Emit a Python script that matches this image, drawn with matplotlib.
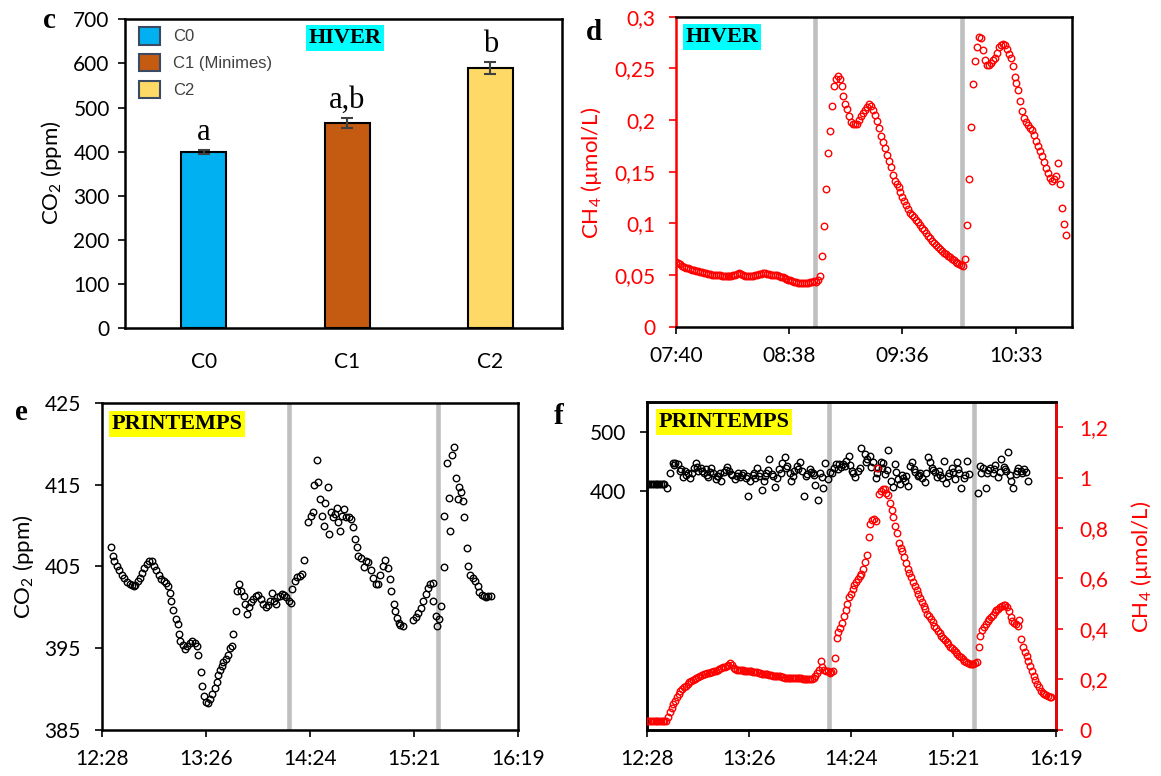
import matplotlib
matplotlib.use('Agg')
import matplotlib.pyplot as plt
import numpy as np
from matplotlib.ticker import FixedLocator, FuncFormatter
from matplotlib.patches import Patch

plt.rcParams['font.family'] = ['Lato', 'DejaVu Sans']
plt.rcParams['mathtext.fontset'] = 'custom'
plt.rcParams['mathtext.rm'] = 'Lato'
plt.rcParams['mathtext.it'] = 'Lato:italic'
plt.rcParams['mathtext.bf'] = 'Lato:bold'

# ---------------- data ----------------
bar_categories = ['C0', 'C1', 'C2']
bar_legend = ['C0', 'C1 (Minimes)', 'C2']
bar_co2 = [400, 465, 590]
bar_err = [5, 12, 14]
bar_letters = ['a', 'a,b', 'b']
bar_colors = ['#00B0F0', '#C55A11', '#FFD966']

# panel d : CH4 (winter), one reading per minute from 07:41
d_start_min = 461
d_ch4 = [
    0.063, 0.062, 0.061, 0.059, 0.058, 0.057, 0.057, 0.056, 0.055, 0.055,
    0.054, 0.054, 0.053, 0.053, 0.052, 0.052, 0.051, 0.051, 0.050, 0.050,
    0.050, 0.050, 0.050, 0.049, 0.049, 0.049, 0.049, 0.049, 0.049, 0.050,
    0.050, 0.051, 0.052, 0.051, 0.050, 0.049, 0.049, 0.049, 0.049, 0.049,
    0.050, 0.050, 0.051, 0.051, 0.052, 0.052, 0.051, 0.051, 0.050, 0.050,
    0.050, 0.050, 0.049, 0.048, 0.048, 0.047, 0.046, 0.045, 0.045, 0.044,
    0.043, 0.043, 0.042, 0.042, 0.042, 0.042, 0.042, 0.042, 0.043, 0.043,
    0.044, 0.043, 0.045, 0.049, 0.068, 0.097, 0.133, 0.168, 0.189, 0.214,
    0.233, 0.240, 0.243, 0.240, 0.233, 0.223, 0.216, 0.211, 0.204, 0.198,
    0.196, 0.196, 0.196, 0.200, 0.204, 0.207, 0.210, 0.213, 0.216, 0.214,
    0.210, 0.205, 0.199, 0.192, 0.185, 0.179, 0.173, 0.166, 0.160, 0.155,
    0.147, 0.141, 0.138, 0.135, 0.130, 0.126, 0.122, 0.118, 0.114, 0.110,
    0.108, 0.106, 0.103, 0.101, 0.098, 0.096, 0.094, 0.091, 0.088, 0.086,
    0.083, 0.081, 0.079, 0.077, 0.075, 0.073, 0.071, 0.070, 0.068, 0.067,
    0.066, 0.065, 0.063, 0.062, 0.061, 0.060, 0.059, 0.066, 0.098, 0.143,
    0.193, 0.235, 0.257, 0.271, 0.280, 0.279, 0.268, 0.258, 0.253, 0.253,
    0.255, 0.258, 0.260, 0.265, 0.271, 0.273, 0.274, 0.273, 0.269, 0.264,
    0.260, 0.252, 0.242, 0.236, 0.229, 0.218, 0.209, 0.202, 0.198, 0.195,
    0.192, 0.190, 0.186, 0.180, 0.175, 0.170, 0.165, 0.159, 0.154, 0.149,
    0.144, 0.141, 0.143, 0.146, 0.158, 0.138, 0.115, 0.099, 0.089,
]
d_events_min = [531.5, 606.5]

# panel e : CO2 (spring); minutes after 12:28:48
e_t0_min = 748.8
e_t = [
    5.0, 6.1, 7.0, 8.3, 9.8, 11.1, 12.4, 13.9, 15.4, 16.7,
    17.7, 18.6, 19.9, 21.0, 22.3, 23.6, 25.1, 26.4, 27.9, 29.2,
    30.3, 31.6, 32.9, 34.3, 35.8, 36.8, 37.7, 38.4, 39.6, 40.9,
    42.2, 42.7, 43.6, 45.1, 45.9, 47.4, 48.7, 50.2, 51.5, 52.6,
    53.5, 54.8, 55.7, 56.7, 57.8, 58.9, 60.0, 61.3, 62.6, 63.7,
    64.6, 65.6, 66.5, 67.4, 68.7, 69.7, 71.1, 71.9, 72.8, 74.3,
    74.9, 76.2, 77.1, 78.6, 79.3, 80.4, 81.7, 82.7, 84.0, 85.5,
    86.7, 88.2, 89.5, 91.0, 91.9, 93.2, 94.2, 95.3, 96.6, 97.2,
    98.5, 99.8, 100.9, 102.2, 103.5, 104.6, 105.5, 106.8, 108.1, 109.6,
    110.9, 112.0, 114.3, 116.1, 117.0, 117.4, 118.9, 119.8, 120.8, 121.7,
    123.0, 123.6, 125.4, 126.0, 126.7, 127.8, 128.9, 130.0, 130.6, 131.9,
    132.8, 134.1, 135.3, 136.6, 137.9, 139.0, 140.3, 141.2, 142.1, 143.4,
    144.9, 146.2, 147.6, 148.9, 150.1, 151.6, 152.9, 154.2, 155.5, 156.6,
    158.3, 159.8, 160.3, 161.6, 162.4, 163.5, 164.4, 165.3, 166.8, 172.4,
    173.7, 175.0, 176.5, 178.0, 179.3, 180.6, 181.8, 183.1, 183.6, 184.9,
    185.5, 186.8, 187.7, 189.2, 189.5, 191.1, 192.0, 192.8, 193.7, 194.8,
    196.1, 197.0, 197.9, 198.8, 200.1, 200.7, 202.1, 202.9, 204.0, 205.3,
    206.6, 208.1, 209.0, 210.3, 211.4, 212.7, 214.0, 215.5,
]
e_co2 = [
    407.4, 406.3, 405.7, 405.1, 404.6, 404.0, 403.6, 403.1, 402.8, 402.7,
    402.6, 402.7, 403.2, 403.6, 404.2, 404.8, 405.3, 405.6, 405.6, 405.1,
    404.5, 404.0, 403.4, 403.2, 403.0, 402.6, 401.7, 400.7, 399.6, 398.6,
    397.9, 396.7, 395.9, 395.4, 394.9, 395.3, 395.6, 395.8, 395.6, 395.3,
    394.1, 392.1, 390.3, 389.1, 388.4, 388.3, 388.7, 389.4, 390.1, 390.9,
    391.7, 392.3, 392.8, 393.3, 393.7, 394.2, 395.0, 395.2, 396.7, 399.5,
    402.0, 402.8, 402.0, 401.4, 400.4, 399.2, 400.0, 400.6, 401.0, 401.4,
    401.5, 401.0, 400.4, 400.0, 400.3, 400.8, 401.7, 400.8, 400.4, 401.2,
    401.4, 401.6, 401.5, 401.2, 400.8, 400.5, 402.2, 403.2, 403.7, 403.8,
    404.1, 405.8, 410.4, 411.2, 411.6, 414.9, 418.0, 415.3, 413.2, 411.2,
    410.0, 412.8, 414.7, 408.9, 411.6, 411.1, 411.4, 412.1, 410.4, 409.3,
    411.2, 412.0, 411.0, 411.0, 410.8, 409.8, 408.4, 407.4, 406.3, 406.0,
    404.9, 405.7, 405.5, 404.6, 403.6, 402.9, 402.8, 404.0, 405.0, 405.8,
    404.8, 403.5, 402.0, 400.4, 399.5, 398.7, 398.1, 397.8, 397.7, 398.4,
    398.8, 399.3, 399.9, 400.7, 401.6, 402.3, 402.8, 403.0, 400.8, 398.9,
    397.7, 398.5, 400.1, 404.9, 411.2, 417.6, 413.4, 409.3, 418.6, 419.6,
    415.8, 413.2, 414.7, 414.1, 413.0, 411.1, 407.3, 405.1, 403.9, 403.6,
    403.2, 402.6, 401.9, 401.5, 401.4, 401.3, 401.4, 401.4,
]
e_events_min = [852.6, 935.1]

# panel f : CO2 (left axis), minutes after 12:28:48
f_t0_min = 748.8
f_co2_t = [
    0, 1, 2, 3, 4, 5, 6, 7, 8, 9, 10,
    11.2, 12.9, 14.6, 16.0, 17.4, 18.7, 20.2, 21.6, 23.3, 24.5,
    26.4, 27.9, 29.1, 30.6, 32.0, 33.3, 34.7, 36.2, 37.4, 38.9,
    40.3, 42.0, 43.7, 45.1, 46.6, 48.2, 49.9, 51.4, 52.8, 54.5,
    55.9, 57.0, 58.2, 59.7, 61.1, 62.4, 63.8, 64.9, 65.9, 67.4,
    69.0, 70.5, 72.1, 73.2, 74.6, 76.3, 77.8, 79.0, 80.5, 81.5,
    83.2, 84.6, 86.1, 87.3, 88.8, 90.2, 91.9, 93.6, 95.0, 96.5,
    97.7, 99.2, 100.2, 101.9, 104.4, 106.4, 108.5, 110.6, 112.3, 113.7,
    115.4, 117.3, 118.9, 121.0, 122.7, 124.1, 125.6, 127.2, 128.9, 130.4,
    131.8, 133.1, 134.5, 136.0, 137.6, 138.7, 139.7, 141.4, 142.8, 144.3,
    145.5, 147.0, 148.4, 149.7, 151.1, 152.6, 153.8, 155.3, 156.8, 158.4,
    159.5, 160.9, 162.2, 163.6, 164.7, 166.3, 167.6, 168.8, 170.5, 171.9,
    173.4, 174.6, 176.1, 177.1, 178.8, 180.2, 181.3, 186.5, 187.5, 189.2,
    190.9, 191.7, 193.3, 194.8, 196.3, 197.9, 199.6, 201.0, 202.5, 203.7,
    205.2, 206.2, 207.9, 209.4, 210.8, 212.5, 214.6,
    15.3, 19.5, 22.4, 25.4, 28.5, 31.3, 34.0, 35.5, 39.6, 41.2,
    44.4, 47.4, 50.6, 53.6, 56.5, 60.4, 63.1, 66.6, 68.2, 71.3,
    75.4, 78.4, 82.3, 85.3, 89.5, 92.7, 94.3, 98.5, 103.5, 105.4,
    107.5, 109.6, 111.5, 114.6, 116.3, 119.9, 123.4, 126.4, 129.6, 132.5,
    135.3, 140.5, 143.6, 146.2, 150.4, 153.2, 157.5, 161.5, 165.5, 169.6,
    172.6, 175.3, 179.5, 188.3, 192.5, 195.5, 198.8, 202.0, 204.5, 208.6,
    211.6, 213.5,
]
f_co2 = [
    413, 413, 413, 413, 413, 413, 413, 413, 413, 413, 412,
    406, 430, 447, 448, 446, 434, 424, 435, 431, 422,
    439, 447, 434, 439, 431, 437, 424, 439, 431, 420,
    426, 418, 433, 441, 434, 427, 420, 430, 424, 431,
    422, 393, 417, 427, 422, 439, 430, 403, 418, 431,
    454, 429, 407, 422, 437, 447, 457, 443, 430, 418,
    434, 443, 450, 434, 393, 429, 437, 430, 410, 386,
    430, 406, 447, 420, 430, 446, 446, 446, 451, 460,
    434, 424, 435, 472, 463, 454, 460, 449, 422, 440,
    449, 447, 429, 469, 418, 407, 446, 420, 413, 423,
    418, 409, 443, 449, 433, 426, 430, 422, 416, 457,
    450, 440, 433, 424, 434, 422, 451, 414, 430, 440,
    420, 450, 431, 405, 422, 451, 429, 397, 443, 440,
    406, 430, 440, 431, 445, 424, 454, 441, 434, 466,
    418, 406, 429, 439, 434, 437, 418,
    444, 438, 428, 430, 441, 435, 428, 433, 425, 431,
    436, 429, 426, 428, 425, 431, 426, 425, 436, 425,
    430, 440, 426, 438, 425, 433, 428, 424, 432, 440,
    438, 441, 443, 445, 430, 440, 449, 441, 430, 440,
    436, 432, 428, 425, 438, 428, 430, 436, 428, 425,
    433, 437, 428, 430, 436, 438, 432, 437, 428, 434,
    430, 432,
]
# panel f : CH4 (right axis), one reading per minute from 12:28:48
f_ch4 = [
    0.036, 0.036, 0.036, 0.036, 0.035, 0.035, 0.035, 0.034, 0.034, 0.034,
    0.033, 0.034, 0.050, 0.072, 0.088, 0.100, 0.115, 0.128, 0.140, 0.152,
    0.161, 0.168, 0.174, 0.181, 0.189, 0.195, 0.199, 0.203, 0.207, 0.210,
    0.214, 0.217, 0.220, 0.222, 0.225, 0.226, 0.228, 0.229, 0.231, 0.233,
    0.236, 0.239, 0.243, 0.247, 0.250, 0.253, 0.258, 0.264, 0.255, 0.245,
    0.240, 0.238, 0.237, 0.236, 0.235, 0.234, 0.233, 0.232, 0.232, 0.231,
    0.230, 0.228, 0.227, 0.226, 0.224, 0.222, 0.221, 0.220, 0.219, 0.218,
    0.216, 0.214, 0.212, 0.213, 0.214, 0.212, 0.210, 0.208, 0.207, 0.206,
    0.206, 0.205, 0.205, 0.204, 0.204, 0.205, 0.206, 0.204, 0.203, 0.202,
    0.201, 0.200, 0.201, 0.203, 0.207, 0.215, 0.224, 0.235, 0.272, 0.250,
    0.238, 0.234, 0.232, 0.226, 0.228, 0.231, 0.284, 0.363, 0.389, 0.405,
    0.425, 0.450, 0.475, 0.500, 0.528, 0.540, 0.558, 0.575, 0.586, 0.598,
    0.610, 0.618, 0.636, 0.665, 0.695, 0.765, 0.815, 0.830, 0.835, 0.828,
    1.039, 0.935, 0.945, 0.955, 0.955, 0.938, 0.930, 0.900, 0.870, 0.844,
    0.810, 0.780, 0.740, 0.720, 0.708, 0.685, 0.660, 0.638, 0.620, 0.605,
    0.586, 0.570, 0.553, 0.538, 0.524, 0.508, 0.492, 0.477, 0.460, 0.450,
    0.441, 0.428, 0.413, 0.402, 0.392, 0.382, 0.373, 0.363, 0.354, 0.349,
    0.338, 0.330, 0.323, 0.316, 0.308, 0.300, 0.293, 0.287, 0.280, 0.274,
    0.269, 0.265, 0.262, 0.259, 0.261, 0.263, 0.269, 0.330, 0.370, 0.395,
    0.408, 0.418, 0.430, 0.440, 0.446, 0.457, 0.468, 0.476, 0.480, 0.487,
    0.490, 0.494, 0.494, 0.488, 0.470, 0.448, 0.432, 0.424, 0.421, 0.410,
    0.437, 0.360, 0.330, 0.310, 0.292, 0.272, 0.252, 0.232, 0.213, 0.197,
    0.183, 0.168, 0.155, 0.147, 0.141, 0.137, 0.133, 0.131, 0.130,
]
f_events_min = [851.7, 933.3]

assert len(e_t) == len(e_co2)
assert len(f_co2_t) == len(f_co2)

# ---------------- helpers ----------------
W, H = 1161, 776
DAY = 1440.0
RED = '#FF0000'
GRAY = '#BFBFBF'


def rect(l, t, r, b):
    return [l / W, 1 - b / H, (r - l) / W, (b - t) / H]


def hhmm(x, pos=None):
    m = int(np.floor(x * DAY + 1e-6))
    return f"{m // 60:02d}:{m % 60:02d}"


def comma(v, pos=None):
    s = f"{v:.2f}".rstrip('0').rstrip('.')
    return s.replace('.', ',')


def style_spines(ax, lw=1.5, colors=None):
    colors = colors or {}
    for side, sp in ax.spines.items():
        sp.set_linewidth(lw)
        sp.set_color(colors.get(side, 'black'))


def tag(x, y, s, color):
    fig.text(x / W, 1 - y / H, s, fontsize=16, fontweight='bold',
             family='Liberation Serif', ha='center', va='center',
             bbox=dict(boxstyle='square,pad=0.12', facecolor=color, edgecolor='none'))


def panel_letter(x, y, s):
    fig.text(x / W, 1 - y / H, s, fontsize=21, fontweight='bold',
             family='Liberation Serif', ha='center', va='center')


def ylab(x, y, s, color='black'):
    fig.text(x / W, 1 - y / H, s, fontsize=16, color=color, rotation=90,
             ha='center', va='center')


mk = dict(linestyle='none', marker='o', markerfacecolor='none',
          markersize=4.7, markeredgewidth=1.0)

fig = plt.figure(figsize=(W / 100, H / 100), dpi=100)

# ---------------- panel c ----------------
axc = fig.add_axes(rect(125, 19.3, 562, 328.3))
xc = np.arange(len(bar_categories))
axc.bar(xc, bar_co2, width=0.315, color=bar_colors, edgecolor='black',
        linewidth=1.5, zorder=2)
axc.errorbar(xc, bar_co2, yerr=bar_err, fmt='none', ecolor='#404040',
             elinewidth=1.5, capsize=4, capthick=1.5, zorder=3)
for xi, m, e, s in zip(xc, bar_co2, bar_err, bar_letters):
    axc.annotate(s, (xi, m + e), xytext=(0, 7), textcoords='offset points',
                 ha='center', va='baseline', fontsize=22,
                 family='Liberation Serif')
axc.set_xlim(-0.55, 2.5)
axc.set_ylim(0, 700)
axc.set_yticks(np.arange(0, 701, 100))
axc.set_xticks(xc)
axc.set_xticklabels(bar_categories)
axc.tick_params(axis='x', length=0, pad=17, labelsize=15)
axc.tick_params(axis='y', length=5, width=1.2, pad=6, labelsize=15, direction='out')
style_spines(axc, 1.8)
handles = [Patch(facecolor=c, edgecolor='#3B4A63', linewidth=1.5) for c in bar_colors]
leg = axc.legend(handles, bar_legend, loc='upper left', bbox_to_anchor=(0.032, 0.975),
                 frameon=False, handlelength=1.25, handleheight=1.25,
                 handletextpad=0.8, labelspacing=0.55, borderpad=0, borderaxespad=0,
                 prop={'family': 'Liberation Sans', 'size': 12})
for t in leg.get_texts():
    t.set_color('#404040')
tag(345, 38, 'HIVER', '#00FFFF')
panel_letter(49, 21, 'c')
ylab(52, 173, 'CO$_2$ (ppm)')

# ---------------- panel d ----------------
axd = fig.add_axes(rect(676, 16.7, 1072.3, 326.7))
xd = (d_start_min + np.arange(len(d_ch4))) / DAY
for ev in d_events_min:
    axd.axvline(ev / DAY, color=GRAY, lw=3.3, zorder=1)
axd.plot(xd, d_ch4, color=RED, markeredgecolor=RED, zorder=3, **mk)
axd.set_xlim(0.32, 0.46)
axd.set_ylim(0, 0.3)
axd.xaxis.set_major_locator(FixedLocator([0.32, 0.36, 0.40, 0.44]))
axd.xaxis.set_major_formatter(FuncFormatter(hhmm))
axd.yaxis.set_major_locator(FixedLocator(np.arange(0, 0.301, 0.05)))
axd.yaxis.set_major_formatter(FuncFormatter(comma))
axd.tick_params(axis='x', length=5, width=1.2, pad=9, labelsize=15, direction='out')
axd.tick_params(axis='y', length=5, width=1.2, pad=10, labelsize=15, direction='out',
                colors=RED)
style_spines(axd, 1.8, {'left': RED})
tag(722, 37, 'HIVER', '#00FFFF')
panel_letter(594, 32, 'd')
ylab(591, 173, 'CH$_4$ (µmol/L)', RED)

# ---------------- panel e ----------------
axe = fig.add_axes(rect(101.7, 403, 518, 729.7))
for ev in e_events_min:
    axe.axvline(ev / DAY, color=GRAY, lw=3.3, zorder=1)
xe = (e_t0_min + np.array(e_t)) / DAY
axe.plot(xe, e_co2, color='black', markeredgecolor='black', zorder=3, **mk)
axe.set_xlim(0.52, 0.68)
axe.set_ylim(385, 425)
axe.xaxis.set_major_locator(FixedLocator([0.52, 0.56, 0.60, 0.64, 0.68]))
axe.xaxis.set_major_formatter(FuncFormatter(hhmm))
axe.set_yticks([385, 395, 405, 415, 425])
axe.tick_params(axis='x', length=5, width=1.2, pad=9, labelsize=15, direction='out')
axe.tick_params(axis='y', length=5, width=1.2, pad=10, labelsize=15, direction='out')
style_spines(axe, 1.8)
tag(177, 424, 'PRINTEMPS', '#FFFF00')
panel_letter(21, 413, 'e')
ylab(24, 567, 'CO$_2$ (ppm)')

# ---------------- panel f ----------------
axf = fig.add_axes(rect(646.7, 402, 1055.7, 729.7))
axf2 = axf.twinx()
for ev in f_events_min:
    axf.axvline(ev / DAY, color=GRAY, lw=3.3, zorder=1)
xf_co2 = (f_t0_min + np.array(f_co2_t)) / DAY
axf.plot(xf_co2, f_co2, color='black', markeredgecolor='black', zorder=3, **mk)
xf_ch4 = (f_t0_min + np.arange(len(f_ch4))) / DAY
axf2.plot(xf_ch4, f_ch4, color=RED, markeredgecolor=RED, zorder=3, **mk)
axf.set_xlim(0.52, 0.68)
axf.set_ylim(0, 550)
axf.set_yticks([400, 500])
axf2.set_ylim(0, 1.3)
axf2.yaxis.set_major_locator(FixedLocator(np.arange(0, 1.21, 0.2)))
axf2.yaxis.set_major_formatter(FuncFormatter(comma))
axf.xaxis.set_major_locator(FixedLocator([0.52, 0.56, 0.60, 0.64, 0.68]))
axf.xaxis.set_major_formatter(FuncFormatter(hhmm))
axf.tick_params(axis='x', length=5, width=1.2, pad=9, labelsize=15, direction='out')
axf.tick_params(axis='y', length=5, width=1.2, pad=10, labelsize=15, direction='out')
axf2.tick_params(axis='y', length=5, width=1.2, pad=12, labelsize=15, direction='out',
                 colors=RED)
style_spines(axf, 1.8)
style_spines(axf2, 1.8, {'right': RED})
tag(724, 422, 'PRINTEMPS', '#FFFF00')
panel_letter(559, 417, 'f')
ylab(1142, 567, 'CH$_4$ (µmol/L)', RED)

fig.savefig('out.png', dpi=100)
